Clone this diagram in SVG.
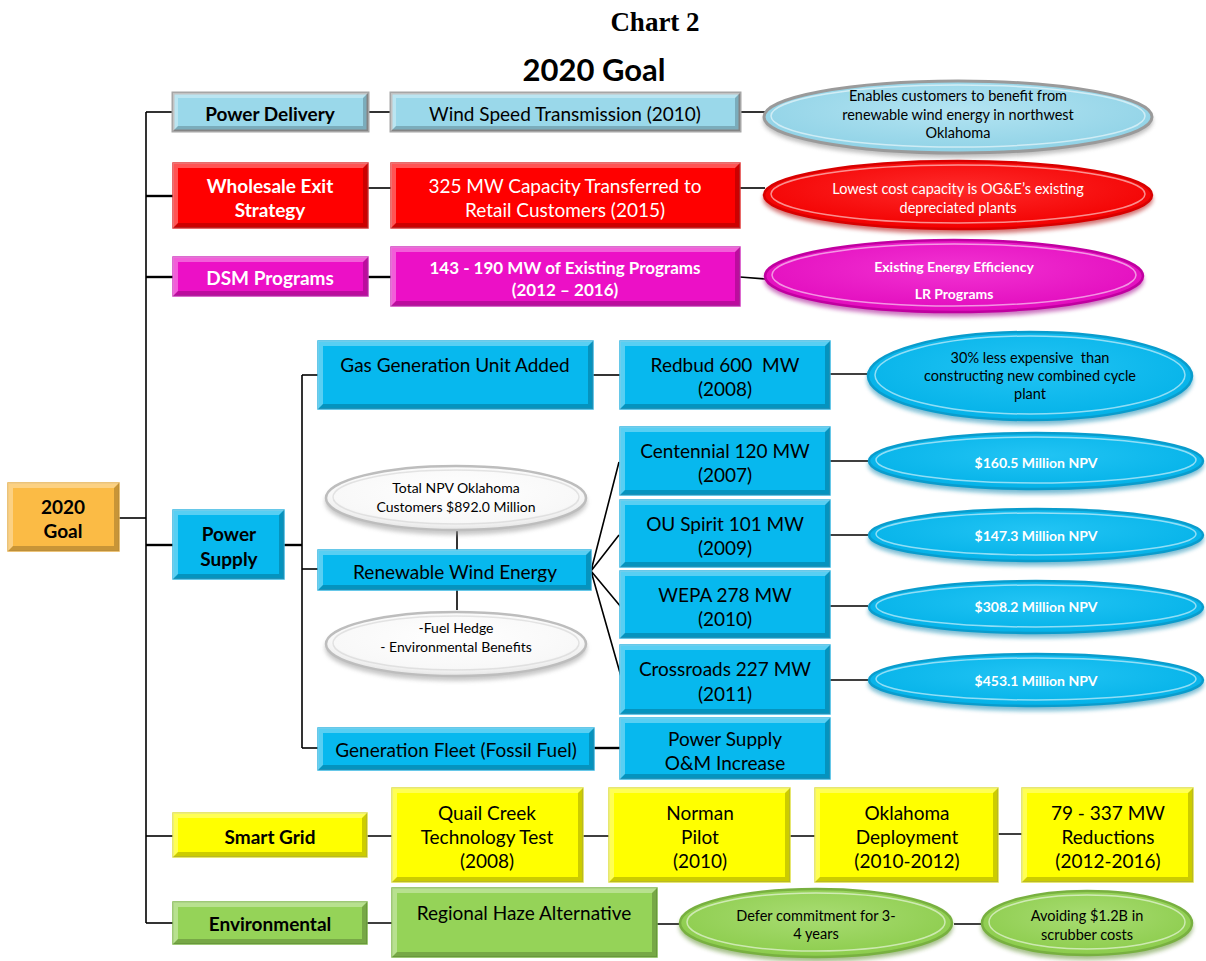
<svg xmlns="http://www.w3.org/2000/svg" width="1206" height="961" viewBox="0 0 1206 961">
<defs>
<radialGradient id="g-lb" cx="0.5" cy="0.4" r="0.6"><stop offset="0" stop-color="#b4e4f2"/><stop offset="1" stop-color="#8fd2e6"/></radialGradient>
<radialGradient id="g-red" cx="0.5" cy="0.4" r="0.6"><stop offset="0" stop-color="#ff2a2a"/><stop offset="1" stop-color="#f20000"/></radialGradient>
<radialGradient id="g-mag" cx="0.5" cy="0.4" r="0.6"><stop offset="0" stop-color="#f232d2"/><stop offset="1" stop-color="#e20cbe"/></radialGradient>
<radialGradient id="g-blue" cx="0.5" cy="0.4" r="0.6"><stop offset="0" stop-color="#22c4f4"/><stop offset="1" stop-color="#04b2e8"/></radialGradient>
<radialGradient id="g-wht" cx="0.5" cy="0.4" r="0.6"><stop offset="0" stop-color="#ffffff"/><stop offset="0.8" stop-color="#f8f8f8"/><stop offset="1" stop-color="#e4e4e4"/></radialGradient>
<radialGradient id="g-grn" cx="0.5" cy="0.4" r="0.6"><stop offset="0" stop-color="#a8dc72"/><stop offset="1" stop-color="#8ccc4c"/></radialGradient>
<filter id="blur" x="-10%" y="-20%" width="120%" height="140%"><feGaussianBlur stdDeviation="2"/></filter>
</defs>
<style>
.t{font-family:"Lato","Carlito","Liberation Sans",sans-serif;text-anchor:middle;dominant-baseline:central}
.b{font-weight:bold}
.s17{font-size:17px}.s18{font-size:19px}.s19{font-size:19px}.s13{font-size:14px}.s14{font-size:14.5px}
.k{fill:#000}.w{fill:#fff}
.lt{fill:#fff;opacity:0.33}
.dk{fill:#000;opacity:0.2}
.r-lb{fill:#9ad8ea;stroke:#a6a6a6;stroke-width:3}
.r-red{fill:#ff0000;stroke:#e23a3a;stroke-width:1.5}
.r-mag{fill:#ec10c6;stroke:#d23ac0;stroke-width:1.5}
.r-blue{fill:#07b8ee;stroke:#34b6e2;stroke-width:1.5}
.r-org{fill:#fbbb45;stroke:#e6b04c;stroke-width:1.5}
.r-yel{fill:#ffff00;stroke:#e0e040;stroke-width:1.5}
.r-grn{fill:#95d358;stroke:#7fb84a;stroke-width:1.5}
.e-lb{fill:url(#g-lb);stroke:#9a9a9a;stroke-width:3}
.e-red{fill:url(#g-red);stroke:#d80000;stroke-width:2.5}
.e-mag{fill:url(#g-mag);stroke:#c000a0;stroke-width:2.5}
.e-blue{fill:url(#g-blue);stroke:#0a9ccc;stroke-width:2.5}
.e-wht{fill:url(#g-wht);stroke:#bdbdbd;stroke-width:2.5}
.e-grn{fill:url(#g-grn);stroke:#78b040;stroke-width:2.5}
.in{fill:none;stroke:#fff;stroke-width:1.5;opacity:0.55}
.sh{filter:url(#blur);opacity:0.55}
.c{stroke:#000;stroke-width:1.6;fill:none}
.c2{stroke:#000;stroke-width:2.4;fill:none}
</style>
<rect width="1206" height="961" fill="#fff"/>

<text x="655" y="31" font-family="Liberation Serif, serif" font-weight="bold" font-size="27" text-anchor="middle">Chart 2</text>
<text x="594" y="81" font-family="Lato, Carlito, Liberation Sans, sans-serif" font-weight="bold" font-size="31" text-anchor="middle">2020 Goal</text>

<g id="connectors">
<path class="c" d="M146 112 V923"/>
<path class="c" d="M119 518 H146"/>
<path class="c" d="M146 112 H173"/>
<path class="c2" d="M146 196 H173"/>
<path class="c2" d="M146 277 H173"/>
<path class="c2" d="M146 545 H173"/>
<path class="c" d="M146 836 H173"/>
<path class="c" d="M146 923 H173"/>
<path class="c" d="M368 112 H391"/>
<path class="c" d="M368 188 H391"/>
<path class="c2" d="M368 277 H391"/>
<path class="c" d="M740 112 H765"/>
<path class="c" d="M740 188 H765"/>
<path class="c" d="M740 277 L765 279"/>
<path class="c2" d="M284 545 H302"/>
<path class="c" d="M302 375 V748"/>
<path class="c" d="M302 375 H318"/>
<path class="c" d="M302 569 H318"/>
<path class="c" d="M302 748 H318"/>
<path class="c" d="M593 375 H620"/>
<path class="c" d="M830 374 H868"/>
<path class="c" d="M591 571 L619 462 M591 571 L619 535 M591 571 L621 607 M591 571 L622 680"/>
<path class="c" d="M830 461 H868 M830 535 H868 M830 606 H868 M830 680 H868"/>
<path class="c" d="M457 531 V550 M457 590 V610"/>
<path class="c2" d="M594 748 H620"/>
<path class="c" d="M367 836 H392 M583 836 H609 M790 836 H815 M998 834 H1022"/>
<path class="c" d="M367 923 H392 M657 924 H680 M954 924 H982"/>
</g>

<g id="goal"><rect class="r-org" x="8" y="483" width="111" height="68"/><path class="lt" d="M8 483 H119 L114 488 H13 V546 L8 551Z"/><path class="dk" d="M119 483 V551 H8 L13 546 H114 V488Z"/>
<text class="t b s19 k" x="63" y="506">2020</text><text class="t b s19 k" x="63" y="530">Goal</text></g>

<g id="power-delivery"><rect class="r-lb" x="173" y="93" width="195" height="38"/><path class="lt" d="M173 93 H368 L363 98 H178 V126 L173 131Z"/><path class="dk" d="M368 93 V131 H173 L178 126 H363 V98Z"/>
<text class="t b s18 k" x="270" y="113">Power Delivery</text></g>

<g id="wholesale"><rect class="r-red" x="173" y="163" width="195" height="65"/><path class="lt" d="M173 163 H368 L363 168 H178 V223 L173 228Z"/><path class="dk" d="M368 163 V228 H173 L178 223 H363 V168Z"/>
<text class="t b s18 w" x="270" y="185">Wholesale Exit</text><text class="t b s18 w" x="270" y="209">Strategy</text></g>

<g id="dsm"><rect class="r-mag" x="173" y="257" width="195" height="39"/><path class="lt" d="M173 257 H368 L363 262 H178 V291 L173 296Z"/><path class="dk" d="M368 257 V296 H173 L178 291 H363 V262Z"/>
<text class="t b s18 w" x="270" y="277">DSM Programs</text></g>

<g id="wind-speed"><rect class="r-lb" x="391" y="93" width="349" height="38"/><path class="lt" d="M391 93 H740 L735 98 H396 V126 L391 131Z"/><path class="dk" d="M740 93 V131 H391 L396 126 H735 V98Z"/>
<text class="t s19 k" x="565" y="113">Wind Speed Transmission (2010)</text></g>

<g id="capacity-325"><rect class="r-red" x="391" y="163" width="349" height="65"/><path class="lt" d="M391 163 H740 L735 168 H396 V223 L391 228Z"/><path class="dk" d="M740 163 V228 H391 L396 223 H735 V168Z"/>
<text class="t s19 w" x="565" y="185">325 MW Capacity Transferred to</text><text class="t s19 w" x="565" y="209">Retail Customers (2015)</text></g>

<g id="existing-programs"><rect class="r-mag" x="391" y="247" width="349" height="59"/><path class="lt" d="M391 247 H740 L735 252 H396 V301 L391 306Z"/><path class="dk" d="M740 247 V306 H391 L396 301 H735 V252Z"/>
<text class="t b s17 w" x="565" y="267">143 - 190 MW of Existing Programs</text><text class="t b s17 w" x="565" y="289">(2012 – 2016)</text></g>

<g id="e-wind"><ellipse class="sh" cx="958" cy="121" rx="195" ry="37" fill="#8a8a8a"/><ellipse class="e-lb" cx="958" cy="117" rx="194" ry="36"/><ellipse class="in" cx="958" cy="116" rx="187" ry="31"/>
<text class="t s14 k" x="958" y="95">Enables customers to benefit from</text><text class="t s14 k" x="958" y="114">renewable wind energy in northwest</text><text class="t s14 k" x="958" y="132">Oklahoma</text></g>

<g id="e-lowest"><ellipse class="sh" cx="958" cy="199" rx="195" ry="35" fill="#b00000"/><ellipse class="e-red" cx="958" cy="195" rx="194" ry="34"/><ellipse class="in" cx="958" cy="194" rx="187" ry="29"/>
<text class="t s14 w" x="958" y="188">Lowest cost capacity is OG&amp;E’s existing</text><text class="t s14 w" x="958" y="207">depreciated plants</text></g>

<g id="e-efficiency"><ellipse class="sh" cx="954" cy="280" rx="190" ry="37" fill="#a0008a"/><ellipse class="e-mag" cx="954" cy="276" rx="189" ry="36"/><ellipse class="in" cx="954" cy="275" rx="182" ry="31"/>
<text class="t b s13 w" x="954" y="266">Existing Energy Efficiency</text><text class="t b s13 w" x="954" y="293">LR Programs</text></g>

<g id="power-supply"><rect class="r-blue" x="173" y="510" width="111" height="69"/><path class="lt" d="M173 510 H284 L279 515 H178 V574 L173 579Z"/><path class="dk" d="M284 510 V579 H173 L178 574 H279 V515Z"/>
<text class="t b s19 k" x="229" y="533">Power</text><text class="t b s19 k" x="229" y="558">Supply</text></g>

<g id="gas-gen"><rect class="r-blue" x="318" y="341" width="275" height="68"/><path class="lt" d="M318 341 H593 L588 346 H323 V404 L318 409Z"/><path class="dk" d="M593 341 V409 H318 L323 404 H588 V346Z"/>
<text class="t s19 k" x="455" y="364">Gas Generation Unit Added</text></g>

<g id="renewable"><rect class="r-blue" x="318" y="550" width="273" height="40"/><path class="lt" d="M318 550 H591 L586 555 H323 V585 L318 590Z"/><path class="dk" d="M591 550 V590 H318 L323 585 H586 V555Z"/>
<text class="t s19 k" x="455" y="571">Renewable Wind Energy</text></g>

<g id="fleet"><rect class="r-blue" x="318" y="728" width="276" height="42"/><path class="lt" d="M318 728 H594 L589 733 H323 V765 L318 770Z"/><path class="dk" d="M594 728 V770 H318 L323 765 H589 V733Z"/>
<text class="t s19 k" x="456" y="749">Generation Fleet (Fossil Fuel)</text></g>

<g id="e-total-npv"><ellipse class="sh" cx="456" cy="502" rx="131" ry="33" fill="#9a9a9a"/><ellipse class="e-wht" cx="456" cy="498" rx="130" ry="32"/><ellipse class="in" cx="456" cy="497" rx="123" ry="27" style="stroke:#cfcfcf"/>
<text class="t s13 k" x="456" y="487">Total NPV Oklahoma</text><text class="t s13 k" x="456" y="506">Customers $892.0 Million</text></g>

<g id="e-fuel-hedge"><ellipse class="sh" cx="456" cy="648" rx="131" ry="33" fill="#9a9a9a"/><ellipse class="e-wht" cx="456" cy="644" rx="130" ry="32"/><ellipse class="in" cx="456" cy="643" rx="123" ry="27" style="stroke:#cfcfcf"/>
<text class="t s13 k" x="456" y="627">-Fuel Hedge</text><text class="t s13 k" x="456" y="646">- Environmental Benefits</text></g>

<g id="redbud"><rect class="r-blue" x="620" y="341" width="210" height="68"/><path class="lt" d="M620 341 H830 L825 346 H625 V404 L620 409Z"/><path class="dk" d="M830 341 V409 H620 L625 404 H825 V346Z"/>
<text class="t s19 k" x="725" y="364" xml:space="preserve">Redbud 600  MW</text><text class="t s19 k" x="725" y="388">(2008)</text></g>

<g id="centennial"><rect class="r-blue" x="620" y="427" width="210" height="68"/><path class="lt" d="M620 427 H830 L825 432 H625 V490 L620 495Z"/><path class="dk" d="M830 427 V495 H620 L625 490 H825 V432Z"/>
<text class="t s19 k" x="725" y="450">Centennial 120 MW</text><text class="t s19 k" x="725" y="474">(2007)</text></g>

<g id="ou-spirit"><rect class="r-blue" x="620" y="500" width="210" height="67"/><path class="lt" d="M620 500 H830 L825 505 H625 V562 L620 567Z"/><path class="dk" d="M830 500 V567 H620 L625 562 H825 V505Z"/>
<text class="t s19 k" x="725" y="523">OU Spirit 101 MW</text><text class="t s19 k" x="725" y="547">(2009)</text></g>

<g id="wepa"><rect class="r-blue" x="620" y="571" width="210" height="67"/><path class="lt" d="M620 571 H830 L825 576 H625 V633 L620 638Z"/><path class="dk" d="M830 571 V638 H620 L625 633 H825 V576Z"/>
<text class="t s19 k" x="725" y="594">WEPA 278 MW</text><text class="t s19 k" x="725" y="618">(2010)</text></g>

<g id="crossroads"><rect class="r-blue" x="620" y="645" width="210" height="69"/><path class="lt" d="M620 645 H830 L825 650 H625 V709 L620 714Z"/><path class="dk" d="M830 645 V714 H620 L625 709 H825 V650Z"/>
<text class="t s19 k" x="725" y="668">Crossroads 227 MW</text><text class="t s19 k" x="725" y="693">(2011)</text></g>

<g id="om-increase"><rect class="r-blue" x="620" y="718" width="210" height="61"/><path class="lt" d="M620 718 H830 L825 723 H625 V774 L620 779Z"/><path class="dk" d="M830 718 V779 H620 L625 774 H825 V723Z"/>
<text class="t s19 k" x="725" y="738">Power Supply</text><text class="t s19 k" x="725" y="762">O&amp;M Increase</text></g>

<g id="e-redbud"><ellipse class="sh" cx="1030" cy="380" rx="163" ry="45" fill="#0886b0"/><ellipse class="e-blue" cx="1030" cy="376" rx="162" ry="44"/><ellipse class="in" cx="1030" cy="375" rx="155" ry="39"/>
<text class="t s14 k" x="1030" y="357" xml:space="preserve">30% less expensive  than</text><text class="t s14 k" x="1030" y="375">constructing new combined cycle</text><text class="t s14 k" x="1030" y="393">plant</text></g>

<g id="e-centennial"><ellipse class="sh" cx="1036" cy="465" rx="168" ry="29" fill="#0886b0"/><ellipse class="e-blue" cx="1036" cy="461" rx="167" ry="28"/><ellipse class="in" cx="1036" cy="460" rx="160" ry="23"/>
<text class="t b s13 w" x="1036" y="462">$160.5 Million NPV</text></g>

<g id="e-ou"><ellipse class="sh" cx="1036" cy="539" rx="168" ry="27" fill="#0886b0"/><ellipse class="e-blue" cx="1036" cy="535" rx="167" ry="26"/><ellipse class="in" cx="1036" cy="534" rx="160" ry="21"/>
<text class="t b s13 w" x="1036" y="535">$147.3 Million NPV</text></g>

<g id="e-wepa"><ellipse class="sh" cx="1036" cy="611" rx="168" ry="27" fill="#0886b0"/><ellipse class="e-blue" cx="1036" cy="607" rx="167" ry="26"/><ellipse class="in" cx="1036" cy="606" rx="160" ry="21"/>
<text class="t b s13 w" x="1036" y="606">$308.2 Million NPV</text></g>

<g id="e-crossroads"><ellipse class="sh" cx="1036" cy="684" rx="168" ry="27" fill="#0886b0"/><ellipse class="e-blue" cx="1036" cy="680" rx="167" ry="26"/><ellipse class="in" cx="1036" cy="679" rx="160" ry="21"/>
<text class="t b s13 w" x="1036" y="680">$453.1 Million NPV</text></g>

<g id="smart-grid"><rect class="r-yel" x="173" y="813" width="194" height="44"/><path class="lt" d="M173 813 H367 L362 818 H178 V852 L173 857Z"/><path class="dk" d="M367 813 V857 H173 L178 852 H362 V818Z"/>
<text class="t b s18 k" x="270" y="836">Smart Grid</text></g>

<g id="quail-creek"><rect class="r-yel" x="392" y="788" width="191" height="94"/><path class="lt" d="M392 788 H583 L578 793 H397 V877 L392 882Z"/><path class="dk" d="M583 788 V882 H392 L397 877 H578 V793Z"/>
<text class="t s19 k" x="487" y="812">Quail Creek</text><text class="t s19 k" x="487" y="836">Technology Test</text><text class="t s19 k" x="487" y="860">(2008)</text></g>

<g id="norman"><rect class="r-yel" x="609" y="788" width="181" height="94"/><path class="lt" d="M609 788 H790 L785 793 H614 V877 L609 882Z"/><path class="dk" d="M790 788 V882 H609 L614 877 H785 V793Z"/>
<text class="t s19 k" x="700" y="812">Norman</text><text class="t s19 k" x="700" y="836">Pilot</text><text class="t s19 k" x="700" y="860">(2010)</text></g>

<g id="oklahoma"><rect class="r-yel" x="815" y="788" width="183" height="94"/><path class="lt" d="M815 788 H998 L993 793 H820 V877 L815 882Z"/><path class="dk" d="M998 788 V882 H815 L820 877 H993 V793Z"/>
<text class="t s19 k" x="907" y="812">Oklahoma</text><text class="t s19 k" x="907" y="836">Deployment</text><text class="t s19 k" x="907" y="860">(2010-2012)</text></g>

<g id="reductions"><rect class="r-yel" x="1022" y="788" width="171" height="94"/><path class="lt" d="M1022 788 H1193 L1188 793 H1027 V877 L1022 882Z"/><path class="dk" d="M1193 788 V882 H1022 L1027 877 H1188 V793Z"/>
<text class="t s19 k" x="1108" y="812">79 - 337 MW</text><text class="t s19 k" x="1108" y="836">Reductions</text><text class="t s19 k" x="1108" y="860">(2012-2016)</text></g>

<g id="environmental"><rect class="r-grn" x="173" y="902" width="194" height="42"/><path class="lt" d="M173 902 H367 L362 907 H178 V939 L173 944Z"/><path class="dk" d="M367 902 V944 H173 L178 939 H362 V907Z"/>
<text class="t b s18 k" x="270" y="923">Environmental</text></g>

<g id="regional-haze"><rect class="r-grn" x="392" y="888" width="265" height="69"/><path class="lt" d="M392 888 H657 L652 893 H397 V952 L392 957Z"/><path class="dk" d="M657 888 V957 H392 L397 952 H652 V893Z"/>
<text class="t s19 k" x="524" y="912">Regional Haze Alternative</text></g>

<g id="e-defer"><ellipse class="sh" cx="816" cy="927" rx="137" ry="35" fill="#5c8c2a"/><ellipse class="e-grn" cx="816" cy="923" rx="136" ry="34"/><ellipse class="in" cx="816" cy="922" rx="129" ry="29"/>
<text class="t s14 k" x="816" y="915">Defer commitment for 3-</text><text class="t s14 k" x="816" y="933">4 years</text></g>

<g id="e-avoiding"><ellipse class="sh" cx="1087" cy="927" rx="106" ry="33" fill="#5c8c2a"/><ellipse class="e-grn" cx="1087" cy="923" rx="105" ry="32"/><ellipse class="in" cx="1087" cy="922" rx="98" ry="27"/>
<text class="t s14 k" x="1087" y="915">Avoiding $1.2B in</text><text class="t s14 k" x="1087" y="934">scrubber costs</text></g>
</svg>
